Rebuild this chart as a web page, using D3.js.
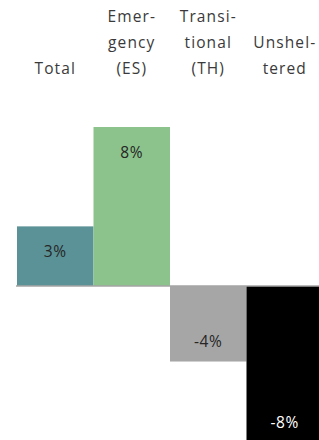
<!DOCTYPE html>
<html>
<head>
<meta charset="utf-8">
<script src="https://cdn.jsdelivr.net/npm/d3@7"></script>
<style>
  body { margin: 0; background: #fff; }
  svg { display: block; }
  .cat { font-family: "Open Sans", "Liberation Sans", sans-serif; font-size: 15.5px; fill: #3a3a3a; letter-spacing: 1.1px; }
  .val { font-family: "Open Sans", "Liberation Sans", sans-serif; font-size: 15.5px; letter-spacing: 0.6px; }
</style>
</head>
<body>
<div id="chart"></div>
<script>
// categories and values (percent change)
let categories = ['Total', 'ES', 'TH', 'Unsheltered']
let catLines = [
    ['Total'],
    ['Emer-', 'gency', '(ES)'],
    ['Transi-', 'tional', '(TH)'],
    ['Unshel-', 'tered']
]
let values = [3.0, 8.0, -3.8, -7.9]
let valueLabels = ['3%', '8%', '-4%', '-8%']
let colors = ['#5b9297', '#8cc38c', '#a6a6a6', '#000000']
let labelColors = ['#262626', '#262626', '#262626', '#ffffff']

let svgWidth = 319
let svgHeight = 440

let svg = d3.select('#chart').append('svg')
    .attr('width', svgWidth)
    .attr('height', svgHeight)

let x = d3.scaleBand()
    .domain(categories)
    .range([17, 323])
    .paddingInner(0)
    .paddingOuter(0)

let y = d3.scaleLinear()
    .domain([-8, 8])
    .range([445, 127])

// bars
svg.append('g')
    .selectAll('rect')
    .data(values)
    .enter()
    .append('rect')
    .attr('x', (d, i) => x(categories[i]))
    .attr('y', d => d > 0 ? y(d) : y(0))
    .attr('width', x.bandwidth())
    .attr('height', d => Math.abs(y(d) - y(0)))
    .attr('fill', (d, i) => colors[i])

// zero line
svg.append('line')
    .attr('x1', 16)
    .attr('x2', svgWidth)
    .attr('y1', y(0))
    .attr('y2', y(0))
    .attr('stroke', '#a5a5a5')
    .attr('stroke-width', 1.5)

// value labels, inside end
svg.append('g')
    .selectAll('text')
    .data(values)
    .enter()
    .append('text')
    .attr('class', 'val')
    .attr('x', (d, i) => x(categories[i]) + x.bandwidth() / 2)
    .attr('y', d => d > 0 ? y(d) + 31 : y(d) - 15)
    .attr('text-anchor', 'middle')
    .attr('fill', (d, i) => labelColors[i])
    .text((d, i) => valueLabels[i])

// category labels on top, bottom aligned
let lineH = 26
let lastBase = 74
let cats = svg.append('g')
categories.forEach((c, i) => {
    let lines = catLines[i]
    let t = cats.append('text')
        .attr('class', 'cat')
        .attr('text-anchor', 'middle')
    lines.forEach((s, j) => {
        t.append('tspan')
            .attr('x', x(c) + x.bandwidth() / 2)
            .attr('y', lastBase - (lines.length - 1 - j) * lineH)
            .text(s)
    })
})
</script>
</body>
</html>
